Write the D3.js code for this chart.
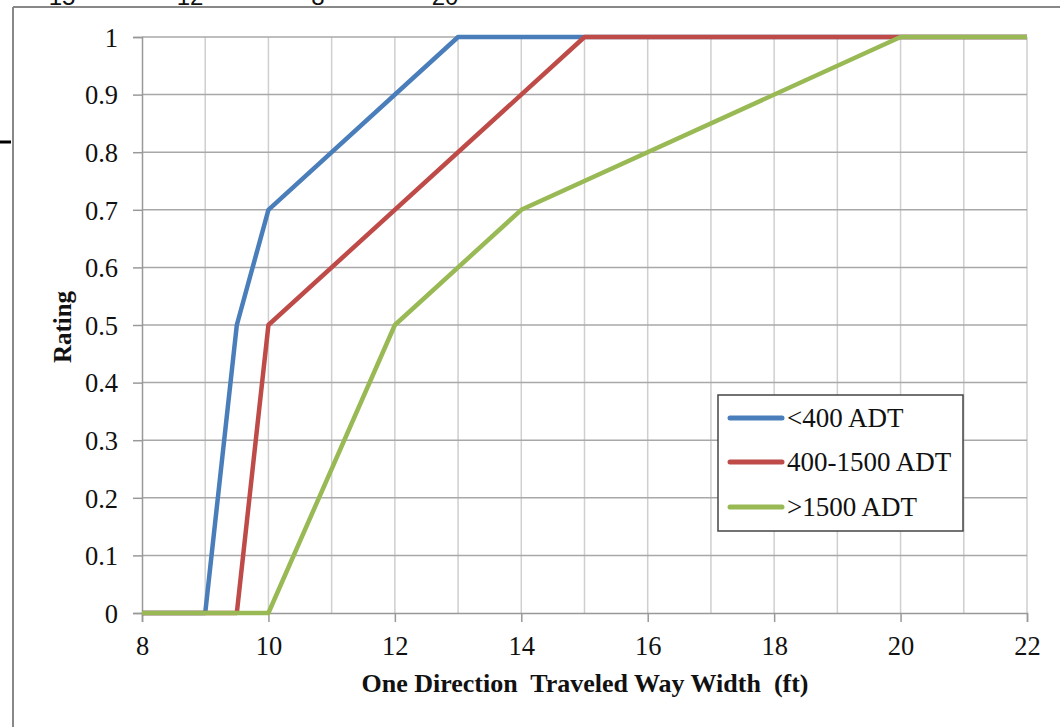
<!DOCTYPE html>
<html><head><meta charset="utf-8">
<script src="https://cdn.jsdelivr.net/npm/d3@7"></script>
<style>body{margin:0;background:#fff}svg{display:block}</style>
</head><body>
<svg id="c" width="1060" height="727"></svg>
<script>
const seriesNames = ["<400 ADT", "400-1500 ADT", ">1500 ADT"];
const seriesColors = ["#4a7ebb", "#be4b48", "#98b954"];
const lowX = [8, 9, 9.5, 10, 13, 22];
const lowY = [0, 0, 0.5, 0.7, 1, 1];
const midX = [8, 9.5, 10, 15, 22];
const midY = [0, 0, 0.5, 1, 1];
const highX = [8, 10, 12, 14, 20, 22];
const highY = [0, 0, 0.5, 0.7, 1, 1];
const xTicks = [8, 10, 12, 14, 16, 18, 20, 22];
const yTicks = [0, 0.1, 0.2, 0.3, 0.4, 0.5, 0.6, 0.7, 0.8, 0.9, 1];
const topCutLabels = ["15", "12", "8", "20"];
const xTitle = "One Direction\u00A0 Traveled Way Width\u00A0 (ft)";
const yTitle = "Rating";

const svg = d3.select("#c");
const x = d3.scaleLinear().domain([8, 22]).range([142, 1027]);
const y = d3.scaleLinear().domain([0, 1]).range([613, 37]);
const serif = "'Liberation Serif','Times New Roman',serif";

// cut-off text above frame
const topX = [62, 190, 318, 445];
svg.selectAll("text.cut").data(topCutLabels).join("text")
  .attr("x", (d, i) => topX[i]).attr("y", 5)
  .attr("text-anchor", "middle").style("font-family", "'Liberation Sans',Arial,sans-serif")
  .style("font-size", "24px").attr("fill", "#111").text(d => d);

// frame
svg.append("line").attr("x1", 13).attr("x2", 1060).attr("y1", 7).attr("y2", 7).attr("stroke", "#888").attr("stroke-width", 2);
svg.append("line").attr("x1", 13).attr("x2", 13).attr("y1", 7).attr("y2", 727).attr("stroke", "#888").attr("stroke-width", 2);
svg.append("line").attr("x1", 0).attr("x2", 11).attr("y1", 142).attr("y2", 142).attr("stroke", "#000").attr("stroke-width", 3);

// gridlines
const vGrid = d3.range(9, 23, 1);
svg.append("g").selectAll("line").data(vGrid).join("line")
  .attr("x1", d => x(d)).attr("x2", d => x(d)).attr("y1", y(1)).attr("y2", y(0))
  .attr("stroke", "#cfcfcf").attr("stroke-width", 1.5);
svg.append("g").selectAll("line").data(yTicks.filter(d => d > 0)).join("line")
  .attr("x1", x(8)).attr("x2", x(22)).attr("y1", d => y(d)).attr("y2", d => y(d))
  .attr("stroke", "#a8a8a8").attr("stroke-width", 1.5);

// axes
const xAxis = svg.append("g").attr("transform", `translate(0,${y(0)})`)
  .call(d3.axisBottom(x).tickValues(xTicks).tickSize(9).tickFormat(d3.format("d")));
const yAxis = svg.append("g").attr("transform", `translate(${x(8)},0)`)
  .call(d3.axisLeft(y).tickValues(yTicks).tickSize(9).tickFormat(d => d === 0 ? "0" : d === 1 ? "1" : d3.format(".1f")(d)));
[xAxis, yAxis].forEach(g => {
  g.attr("font-size", null).attr("font-family", null);
  g.select(".domain").attr("stroke", "#999").attr("stroke-width", 1.5);
  g.selectAll(".tick line").attr("stroke", "#999").attr("stroke-width", 1.5);
  g.selectAll("text").style("font-family", serif).style("font-size", "26.5px").attr("fill", "#111");
});
xAxis.selectAll("text").attr("dy", "0").attr("y", 42);
yAxis.selectAll("text").attr("x", -24).attr("dy", "0.35em");

// titles
svg.append("text").attr("x", 585).attr("y", 692).attr("text-anchor", "middle")
  .style("font-family", serif).style("font-weight", "bold").style("font-size", "26px").attr("fill", "#111")
  .style("white-space", "pre").text(xTitle);
svg.append("text").attr("transform", "translate(71,327) rotate(-90)").attr("text-anchor", "middle")
  .style("font-family", serif).style("font-weight", "bold").style("font-size", "25px").attr("fill", "#111").text(yTitle);

// lines
const series = [
  {name: seriesNames[0], pts: lowX.map((v, i) => [v, lowY[i]])},
  {name: seriesNames[1], pts: midX.map((v, i) => [v, midY[i]])},
  {name: seriesNames[2], pts: highX.map((v, i) => [v, highY[i]])}
];
const line = d3.line().x(d => x(d[0])).y(d => y(d[1]));
svg.append("g").selectAll("path").data(series).join("path")
  .attr("d", d => line(d.pts)).attr("fill", "none")
  .attr("stroke", (d, i) => seriesColors[i]).attr("stroke-width", 4.5)
  .attr("stroke-linejoin", "round");

// legend
const lg = svg.append("g");
lg.append("rect").attr("x", 718).attr("y", 395).attr("width", 245).attr("height", 136)
  .attr("fill", "#fff").attr("stroke", "#444").attr("stroke-width", 1.5);
const ly = [418, 462, 507];
seriesNames.forEach((n, i) => {
  lg.append("line").attr("x1", 730).attr("x2", 782).attr("y1", ly[i]).attr("y2", ly[i])
    .attr("stroke", seriesColors[i]).attr("stroke-width", 5).attr("stroke-linecap", "round");
  lg.append("text").attr("x", 787).attr("y", ly[i]).attr("dy", "0.35em")
    .style("font-family", serif).style("font-size", "27px").attr("fill", "#111").text(n);
});
</script>
</body></html>
